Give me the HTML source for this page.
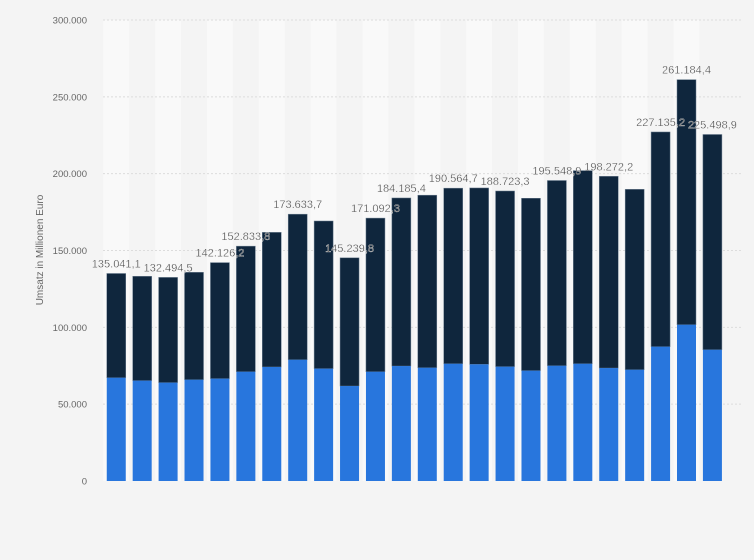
<!DOCTYPE html>
<html><head><meta charset="utf-8"><style>
body{margin:0;background:#f4f4f4;font-family:"Liberation Sans",sans-serif}
svg{display:block}
</style></head><body>
<svg id="c" width="754" height="560">
<rect x="0" y="0" width="754" height="560" fill="#f4f4f4"/>
<g id="stripes"></g><g id="grid"></g><g id="bars"></g><g id="labels"></g>
<text x="43" y="250" transform="rotate(-90 43 250)" text-anchor="middle" font-size="10" fill="#666">Umsatz in Millionen Euro</text>
</svg>
<script>
const totals=[135041.1,133200,132494.5,135800,142126.2,152833.8,161800,173633.7,169200,145239.8,171092.3,184185.4,186000,190564.7,190700,188723.3,184000,195548.9,202000,198272.2,189800,227135.2,261184.4,225498.9];
const lower=[67200,65300,64000,65900,66600,71100,74200,78900,73100,61800,71100,74800,73700,76300,75900,74400,71800,75000,76300,73500,72400,87400,101700,85400];
const labelShown=[1,0,1,0,1,1,0,1,0,1,1,1,0,1,0,1,0,1,0,1,0,1,1,1];
const labelText=["135.041,1","","132.494,5","","142.126,2","152.833,8","","173.633,7","","145.239,8","171.092,3","184.185,4","","190.564,7","","188.723,3","","195.548,9","","198.272,2","","227.135,2","261.184,4","225.498,9"];
const yTicks=[0,50000,100000,150000,200000,250000,300000];
const yTickLabels=["0","50.000","100.000","150.000","200.000","250.000","300.000"];
const NS="http://www.w3.org/2000/svg";
const y0=481,yTop=20,vmax=300000;
const y=v=>y0-v*(y0-yTop)/vmax;
const step=25.92,x0=103.3,bw=19;
const xc=i=>x0+step*i+step/2;
function mk(t,a,p){const e=document.createElementNS(NS,t);for(const k in a)e.setAttribute(k,a[k]);document.getElementById(p).appendChild(e);return e;}
totals.forEach((v,i)=>{
 if(i%2==0){const s=mk('rect',{x:x0+step*i,y:yTop,width:step,height:y0-yTop,fill:'#f9f9f9'},'stripes');
 
 }
});
yTicks.forEach((t,i)=>{
 if(t>0){const l=mk('line',{x1:103,x2:742,y1:y(t),y2:y(t),stroke:'#dcdcdc','stroke-dasharray':'2,2'},'grid');
 
 }
 const tx=mk('text',{x:87,y:y(t)+3.5,'text-anchor':'end','font-size':'9.5',fill:'#666'},'grid');
 tx.textContent=yTickLabels[i];
 
 
});
totals.forEach((v,i)=>{
 const x=xc(i)-bw/2;
 const top=mk('rect',{x:x,y:y(v),width:bw,height:y(lower[i])-y(v),fill:'#0f263d',stroke:'#6d7f91','stroke-width':0.5},'bars');
 
 
 const bot=mk('rect',{x:x,y:y(lower[i]),width:bw,height:y0-y(lower[i]),fill:'#2876dd'},'bars');
 
 
 if(labelShown[i]){
  const t=mk('text',{x:xc(i),y:y(v)-6,'text-anchor':'middle','font-size':'11',fill:'#333',stroke:'#f4f4f4','stroke-width':'0.3'},'labels');
  t.textContent=labelText[i];
  
  
 }
});
</script>
</body></html>
